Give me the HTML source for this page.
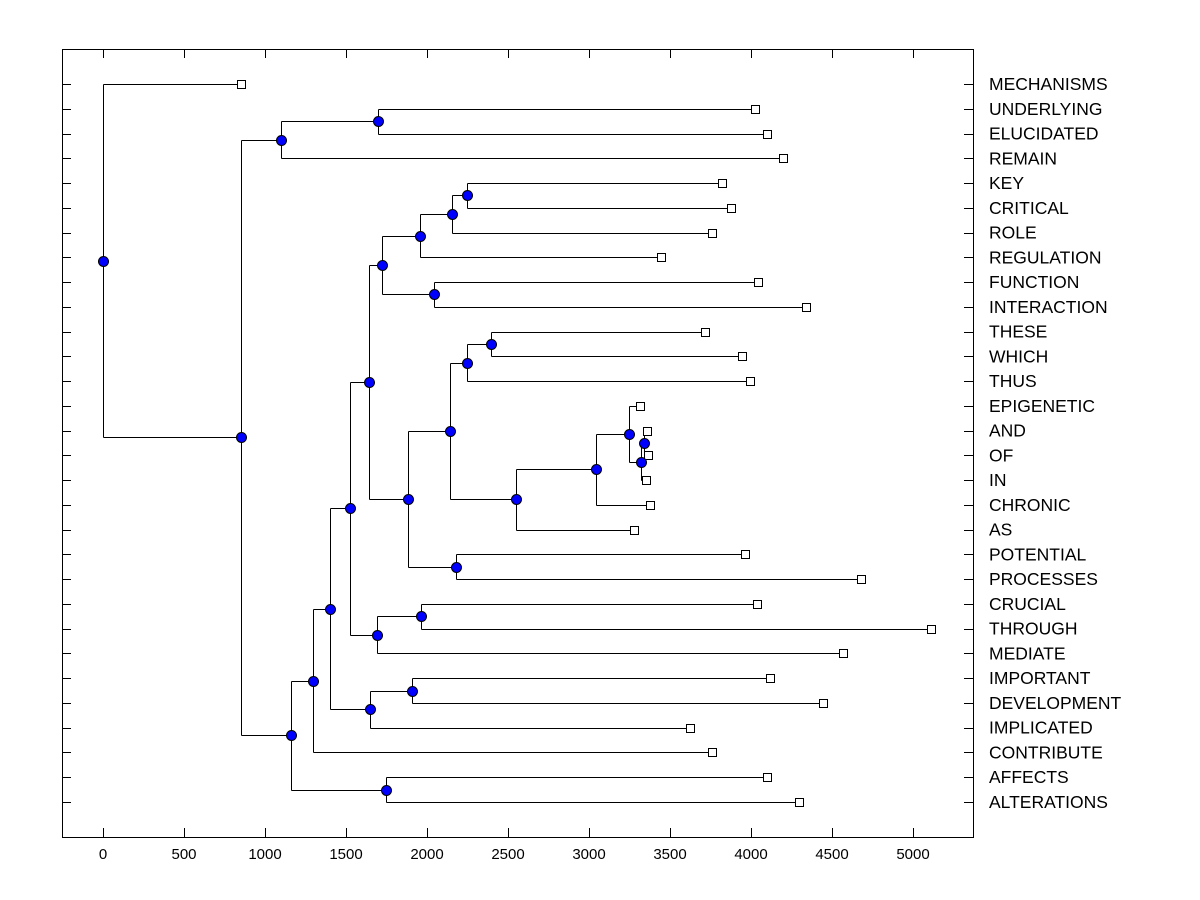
<!DOCTYPE html>
<html><head><meta charset="utf-8">
<style>
html,body{margin:0;padding:0;background:#fff;}
svg{display:block;}
text{font-family:"Liberation Sans",Arial,sans-serif;}
</style></head>
<body>
<svg id="chart" width="1200" height="900" xmlns="http://www.w3.org/2000/svg"></svg>
<script>
const leafNames = ["MECHANISMS","UNDERLYING","ELUCIDATED","REMAIN","KEY","CRITICAL","ROLE","REGULATION","FUNCTION","INTERACTION","THESE","WHICH","THUS","EPIGENETIC","AND","OF","IN","CHRONIC","AS","POTENTIAL","PROCESSES","CRUCIAL","THROUGH","MEDIATE","IMPORTANT","DEVELOPMENT","IMPLICATED","CONTRIBUTE","AFFECTS","ALTERATIONS"];
const leafValues = [852,4025,4099,4198,3821,3877,3759,3444,4043,4340,3716,3944,3994,3315,3358,3364,3352,3377,3278,3963,4679,4037,5111,4568,4117,4444,3623,3759,4099,4296];
const merges = [
["UNDERLYING","ELUCIDATED",1698],
["n0","REMAIN",1099],
["KEY","CRITICAL",2247],
["n2","ROLE",2154],
["n3","REGULATION",1957],
["FUNCTION","INTERACTION",2043],
["n4","n5",1722],
["THESE","WHICH",2395],
["n7","THUS",2247],
["AND","OF",3340],
["n9","IN",3321],
["EPIGENETIC","n10",3247],
["n11","CHRONIC",3043],
["n12","AS",2549],
["n8","n13",2142],
["POTENTIAL","PROCESSES",2179],
["n14","n15",1883],
["n6","n16",1642],
["CRUCIAL","THROUGH",1963],
["n18","MEDIATE",1691],
["n17","n19",1525],
["IMPORTANT","DEVELOPMENT",1907],
["n21","IMPLICATED",1648],
["n20","n22",1401],
["n23","CONTRIBUTE",1296],
["AFFECTS","ALTERATIONS",1747],
["n24","n25",1160],
["n1","n26",852],
["MECHANISMS","n27",0]
];
const xTicks = [0,500,1000,1500,2000,2500,3000,3500,4000,4500,5000];

const NS="http://www.w3.org/2000/svg";
const svg=document.getElementById('chart');
const L=62,R=973,T=49,B=837;
const X0=103, PXU=0.162;
function xs(v){return X0+v*PXU;}
const Y0=84, DY=(802-84)/29;
function ys(i){return Y0+i*DY;}
function mk(tag,attrs,parent){const e=document.createElementNS(NS,tag);for(const k in attrs)e.setAttribute(k,attrs[k]);(parent||svg).appendChild(e);return e;}

const frame=mk('rect',{x:L+0.5,y:T+0.5,width:R-L,height:B-T,fill:'none',stroke:'#000','stroke-width':1});



xTicks.forEach(v=>{
  const x=Math.round(xs(v))+0.5;
  const t1=mk('line',{x1:x,y1:B,x2:x,y2:B-9,stroke:'#000'});
  
  
  const t2=mk('line',{x1:x,y1:T,x2:x,y2:T+9,stroke:'#000'});
  
  
  const lb=mk('text',{x:xs(v),y:859,'text-anchor':'middle','font-size':15,fill:'#000'});
  lb.textContent=v;
  
  
});

leafNames.forEach((n,i)=>{
  const y=Math.round(ys(i))+0.5;
  const a=mk('line',{x1:L,y1:y,x2:L+9,y2:y,stroke:'#000'});
  
  
  const b=mk('line',{x1:R-9,y1:y,x2:R,y2:y,stroke:'#000'});
  
  
  const t=mk('text',{x:989,y:ys(i)+6,'font-size':17.5,fill:'#000'});
  t.textContent=n;
  
  
});

const pos={};
leafNames.forEach((n,i)=>{pos[n]={x:xs(leafValues[i]),y:ys(i),leaf:true};});
merges.forEach((m,k)=>{
  const a=pos[m[0]],b=pos[m[1]];
  pos['n'+k]={x:xs(m[2]),y:(a.y+b.y)/2,a:a,b:b};
});
const gLines=mk('g',{stroke:'#000','stroke-width':1,fill:'none'});


merges.forEach((m,k)=>{
  const p=pos['n'+k];
  const px=Math.round(p.x)+0.5;
  const v=mk('line',{x1:px,y1:Math.round(p.a.y)+0.5,x2:px,y2:Math.round(p.b.y)+0.5},gLines);
  
  
  [p.a,p.b].forEach(c=>{
    const h=mk('line',{x1:px,y1:Math.round(c.y)+0.5,x2:Math.round(c.x)+0.5,y2:Math.round(c.y)+0.5},gLines);
    
    
  });
});
leafNames.forEach(n=>{
  const p=pos[n];
  const s=mk('rect',{x:Math.round(p.x)-4+0.5,y:Math.round(p.y)-4+0.5,width:8,height:8,fill:'#fff',stroke:'#000'});
  
  
});
merges.forEach((m,k)=>{
  const p=pos['n'+k];
  const c=mk('circle',{cx:Math.round(p.x)+0.5,cy:Math.round(p.y)+0.5,r:5,fill:'#0000ff',stroke:'#000'});
  
  
});
</script>
</body></html>
